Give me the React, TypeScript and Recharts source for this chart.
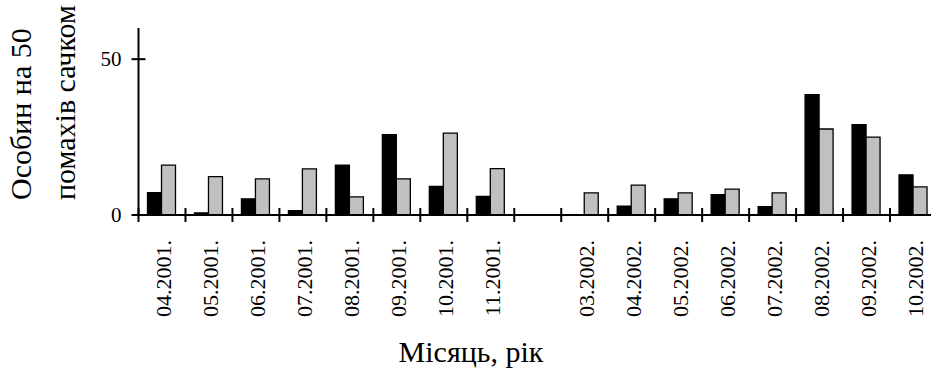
import React from 'react';
import { BarChart, Bar, XAxis, YAxis, Label } from 'recharts';

const categories = ['04.2001.', '05.2001.', '06.2001.', '07.2001.', '08.2001.', '09.2001.', '10.2001.', '11.2001.', '', '03.2002.', '04.2002.', '05.2002.', '06.2002.', '07.2002.', '08.2002.', '09.2002.', '10.2002.'];
const seriesBlack = [7.2, 0.7, 5.2, 1.4, 16.0, 25.8, 9.2, 6.0, null, 0, 2.8, 5.2, 6.5, 2.7, 38.6, 29.0, 12.9];
const seriesGray = [16.0, 12.3, 11.6, 14.8, 5.8, 11.6, 26.3, 14.9, null, 7.1, 9.6, 7.1, 8.3, 7.1, 27.6, 25.0, 9.0];
const yTicks = [0, 50];
const yDomain = [0, 60];

const data = categories.map((c, i) => ({ name: c, black: seriesBlack[i], gray: seriesGray[i] }));

const FONT = 'Liberation Serif';
const CHART_W = 931;
const CHART_H = 375;
const LEFT = 138.5;
const RIGHT = -6;
const PLOT_W = CHART_W - LEFT - RIGHT;
const BAND = PLOT_W / categories.length;

const XTick = (props: any) => {
  const { x, y, payload } = props;
  const bx = x - BAND / 2;
  return (
    <g>
      <line x1={bx} x2={bx} y1={y - 7} y2={y + 7} stroke="#000" strokeWidth={2} />
      {payload.value ? (
        <g transform={`translate(${x + 9},${y + 25})`}>
          <text transform="rotate(-90)" textAnchor="end" fontSize={22} fill="#000" fontFamily={FONT} style={{ fontFamily: FONT }}>
            {payload.value}
          </text>
        </g>
      ) : null}
    </g>
  );
};

const YTick = (props: any) => {
  const { x, y, payload } = props;
  return (
    <g>
      <line x1={x - 7} x2={x + 7} y1={y} y2={y} stroke="#000" strokeWidth={2} />
      <text x={x - 17} y={y + 7} textAnchor="end" fontSize={21} fill="#000" fontFamily={FONT} style={{ fontFamily: FONT }}>
        {payload.value}
      </text>
    </g>
  );
};

const YLabel = () => (
  <g>
    <text transform="translate(31,200) rotate(-90)" textAnchor="start" fontSize={30} fill="#000" fontFamily={FONT} style={{ fontFamily: FONT }}>Особин на 50</text>
    <text transform="translate(75,200) rotate(-90)" textAnchor="start" fontSize={30} fill="#000" fontFamily={FONT} style={{ fontFamily: FONT }}>помахів сачком</text>
  </g>
);

const XLabel = () => (
  <text x={471} y={362} textAnchor="middle" fontSize={30} fill="#000" fontFamily={FONT} style={{ fontFamily: FONT }}>
    Місяць, рік
  </text>
);

export default function App() {
  return (
    <div style={{ position: 'absolute', left: 0, top: 0, width: 931, height: 375, background: '#fff' }}>
      <BarChart
        width={CHART_W}
        height={CHART_H}
        data={data}
        margin={{ top: 28, right: RIGHT, bottom: 0, left: 0 }}
        barGap={0}
        barSize={14}
        style={{ overflow: 'hidden' }}
      >
        <XAxis
          dataKey="name"
          interval={0}
          height={160}
          tickSize={0}
          tickMargin={0}
          tickLine={false}
          axisLine={{ stroke: '#000', strokeWidth: 2 }}
          tick={<XTick />}
        >
          <Label content={<XLabel />} />
        </XAxis>
        <YAxis
          domain={yDomain}
          ticks={yTicks}
          width={LEFT}
          tickSize={0}
          tickMargin={0}
          tickLine={false}
          axisLine={{ stroke: '#000', strokeWidth: 2 }}
          tick={<YTick />}
        >
          <Label content={<YLabel />} />
        </YAxis>
        <Bar dataKey="black" fill="#000" stroke="#000" strokeWidth={1.3} isAnimationActive={false} />
        <Bar dataKey="gray" fill="#c0c0c0" stroke="#000" strokeWidth={1.3} isAnimationActive={false} />
      </BarChart>
    </div>
  );
}
